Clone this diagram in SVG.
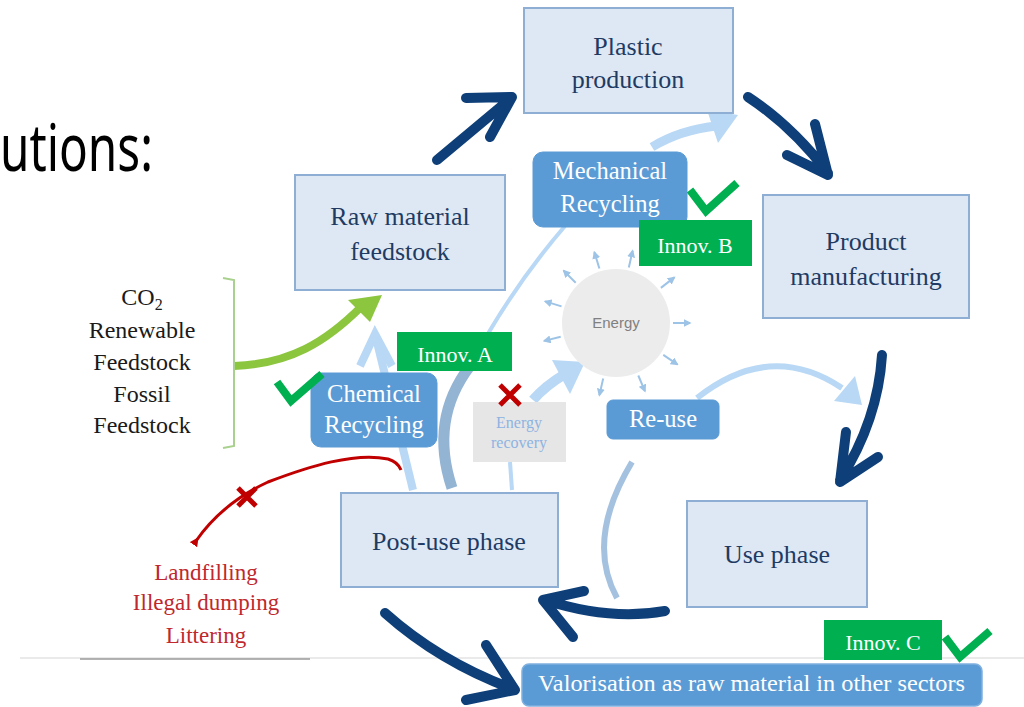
<svg xmlns="http://www.w3.org/2000/svg" width="1024" height="707" viewBox="0 0 1024 707">
<style>
.box{fill:#dde8f4;stroke:#8faed3;stroke-width:2}
.btxt{font-family:"Liberation Serif","Times New Roman",serif;font-size:26px;fill:#1f3b63;text-anchor:middle}
.mid{fill:#5b9bd5;stroke:#5b9bd5;stroke-width:1}
.mtxt{font-family:"Liberation Serif","Times New Roman",serif;font-size:24.5px;fill:#ffffff;text-anchor:middle}
.grn{fill:#00b050}
.gtxt{font-family:"Liberation Serif","Times New Roman",serif;font-size:22px;fill:#ffffff;text-anchor:middle}
.navy{fill:none;stroke:#0e3f78;stroke-width:10;stroke-linecap:round;stroke-linejoin:round}
.lb{fill:none;stroke:#b8d8f5;stroke-linecap:butt}
.lbf{fill:#b8d8f5}
.ray{fill:none;stroke:#9dc3e6;stroke-width:2;marker-end:url(#rh)}
.chk{fill:none;stroke:#00b050;stroke-width:8;stroke-linejoin:miter}
.xm{stroke:#c00000;stroke-width:5;stroke-linecap:butt}
.ltxt{font-family:"Liberation Serif","Times New Roman",serif;font-size:24px;fill:#1a1a1a;text-anchor:middle}
.rtxt{font-family:"Liberation Serif","Times New Roman",serif;font-size:23px;fill:#c0282d;text-anchor:middle}
</style>
<defs>
<marker id="rh" viewBox="0 0 10 10" refX="8" refY="5" markerWidth="4" markerHeight="4" orient="auto">
<path d="M0,0 L10,5 L0,10 z" fill="#9dc3e6"/>
</marker>
<marker id="redh" viewBox="0 0 10 10" refX="5" refY="5" markerWidth="3" markerHeight="3" orient="auto">
<path d="M10,0 L0,5 L10,10 z" fill="#c00000"/>
</marker>
</defs>
<rect x="0" y="0" width="1024" height="707" fill="#ffffff"/>

<text x="0" y="171" font-family="'Noto Sans','Open Sans',sans-serif" font-size="66" fill="#000000" textLength="153" lengthAdjust="spacingAndGlyphs">utions:</text>

<line x1="20" y1="658" x2="1024" y2="658" stroke="#e3e3e3" stroke-width="1.5"/>
<line x1="80" y1="659" x2="310" y2="659" stroke="#9a9a9a" stroke-width="1.5"/>

<g id="connectors">
  <path class="lb" d="M413,490 L377,342" stroke-width="8"/>
  <path class="lb" d="M360,366 L375,334 L392,366" stroke-width="8" stroke-linejoin="miter"/>
  <path d="M452,488 C436,440 444,400 470,366" fill="none" stroke="#94b4d4" stroke-width="11"/>
  <path d="M470,366 Q510,290 565,226" fill="none" stroke="#b8d8f5" stroke-width="4"/>
  <path class="lb" d="M652,147 Q680,130 716,126" stroke-width="9"/>
  <path class="lbf" d="M738,115 L707,110 L718,143 z"/>
  <path class="lb" d="M512,490 L510,462" stroke-width="4"/>
  <path class="lb" d="M533,400 Q545,386 565,374" stroke-width="10"/>
  <path class="lbf" d="M585,362 L552,360 L570,394 z"/>
  <path d="M617,598 Q585,540 632,462" fill="none" stroke="#a4c2e0" stroke-width="6"/>
  <path class="lb" d="M697,398 Q770,340 842,388" stroke-width="6"/>
  <path class="lbf" d="M862,405 L834,401 L855,376 z"/>
  <path d="M234,366 C290,364 326,342 362,306" fill="none" stroke="#8cc63f" stroke-width="8"/>
  <path d="M382,295 L348,300 L370,322 z" fill="#8cc63f"/>
  <path d="M401,470 Q398,462 388,459 C355,452 310,466 268,482 C240,495 214,515 196,541" fill="none" stroke="#c00000" stroke-width="3" marker-end="url(#redh)"/>
  <path class="navy" d="M437,160 L510,99 M466,98 L512,97 L490,137"/>
  <path class="navy" d="M748,97 Q792,126 828,173 M815,124 L828,175 L787,155"/>
  <path class="navy" d="M882,355 Q878,420 840,480 M846,432 L840,482 L878,457"/>
  <path class="navy" d="M665,611 Q610,621 545,600 M584,591 L543,600 L573,637"/>
  <path class="navy" d="M385,613 Q440,662 513,689 M486,645 L515,690 L466,700"/>
  <path class="ray" d="M599.4,268.5 L594.4,252.3"/>
  <path class="ray" d="M628.8,267.5 L632.6,250.9"/>
  <path class="ray" d="M660.9,287.9 L674.3,277.4"/>
  <path class="ray" d="M673,323 L690,323"/>
  <path class="ray" d="M663.3,354.9 L677.3,364.4"/>
  <path class="ray" d="M638.3,375.5 L644.9,391.1"/>
  <path class="ray" d="M603.2,378.5 L599.4,395.1"/>
  <path class="ray" d="M560.7,336.8 L544.2,340.9"/>
  <path class="ray" d="M561.5,306.4 L545.2,301.4"/>
  <path class="ray" d="M575.7,282.7 L563.7,270.7"/>
</g>

<g id="plastic-production">
  <rect class="box" x="524" y="8" width="209" height="105"/>
  <text class="btxt" x="628" y="55">Plastic</text>
  <text class="btxt" x="628" y="88">production</text>
</g>
<g id="raw-material">
  <rect class="box" x="295" y="175" width="210" height="115"/>
  <text class="btxt" x="400" y="225">Raw material</text>
  <text class="btxt" x="400" y="260">feedstock</text>
</g>
<g id="product-manufacturing">
  <rect class="box" x="763" y="195" width="206" height="123"/>
  <text class="btxt" x="866" y="250">Product</text>
  <text class="btxt" x="866" y="285">manufacturing</text>
</g>
<g id="use-phase">
  <rect class="box" x="687" y="501" width="180" height="106"/>
  <text class="btxt" x="777" y="563">Use phase</text>
</g>
<g id="post-use-phase">
  <rect class="box" x="341" y="493" width="217" height="94"/>
  <text class="btxt" x="449" y="550">Post-use phase</text>
</g>
<g id="energy">
  <circle cx="616" cy="323" r="54" fill="#ececec"/>
  <text x="616" y="328" font-family="'Liberation Sans',Arial,sans-serif" font-size="15" fill="#808080" text-anchor="middle">Energy</text>
</g>
<g id="mechanical-recycling">
  <rect class="mid" x="533" y="152" width="154" height="75" rx="10"/>
  <text class="mtxt" x="610" y="179">Mechanical</text>
  <text class="mtxt" x="610" y="212">Recycling</text>
</g>
<g id="chemical-recycling">
  <rect class="mid" x="311" y="373" width="126" height="74" rx="10"/>
  <text class="mtxt" x="374" y="402">Chemical</text>
  <text class="mtxt" x="374" y="433">Recycling</text>
</g>
<g id="re-use">
  <rect class="mid" x="607" y="400" width="112" height="39" rx="6"/>
  <text class="mtxt" x="663" y="427">Re-use</text>
</g>
<g id="energy-recovery">
  <rect x="473" y="402" width="93" height="60" fill="#e7e6e6"/>
  <text x="519" y="428" font-family="'Liberation Serif','Times New Roman',serif" font-size="16" fill="#8db3e2" text-anchor="middle">Energy</text>
  <text x="519" y="448" font-family="'Liberation Serif','Times New Roman',serif" font-size="16" fill="#8db3e2" text-anchor="middle">recovery</text>
</g>
<g id="valorisation">
  <rect x="522" y="664" width="460" height="42" rx="7" fill="#5b9bd5" stroke="#7fb0de" stroke-width="1.5"/>
  <text x="538" y="691" font-family="'Liberation Serif','Times New Roman',serif" font-size="23" fill="#ffffff" textLength="427" lengthAdjust="spacingAndGlyphs">Valorisation as raw material in other sectors</text>
</g>
<g id="innov-a">
  <rect class="grn" x="397" y="332" width="115" height="39"/>
  <text class="gtxt" x="455" y="362">Innov. A</text>
</g>
<g id="innov-b">
  <rect class="grn" x="639" y="220" width="113" height="46"/>
  <text class="gtxt" x="695" y="253">Innov. B</text>
</g>
<g id="innov-c">
  <rect class="grn" x="824" y="620" width="118" height="40"/>
  <text class="gtxt" x="883" y="650">Innov. C</text>
</g>
<g id="feedstock-sources">
  <path d="M223,278 L234,280 L234,446 L223,448" fill="none" stroke="#a9d18e" stroke-width="2"/>
  <text class="ltxt" x="142" y="305">CO<tspan font-size="16" dy="5">2</tspan></text>
  <text class="ltxt" x="142" y="338">Renewable</text>
  <text class="ltxt" x="142" y="370">Feedstock</text>
  <text class="ltxt" x="142" y="402">Fossil</text>
  <text class="ltxt" x="142" y="433">Feedstock</text>
</g>
<g id="leakage">
  <text class="rtxt" x="206" y="580">Landfilling</text>
  <text class="rtxt" x="206" y="610">Illegal dumping</text>
  <text class="rtxt" x="206" y="643">Littering</text>
</g>
<g id="marks">
  <path class="chk" d="M277,382 L291,401 L322,374"/>
  <path class="chk" d="M690,190 L706,211 L737,183"/>
  <path class="chk" d="M945,637 L960,657 L990,631"/>
  <path class="xm" d="M500,385 L520,405 M520,385 L500,405"/>
  <path class="xm" d="M238,488 L256,506 M256,488 L238,506"/>
</g>
</svg>
